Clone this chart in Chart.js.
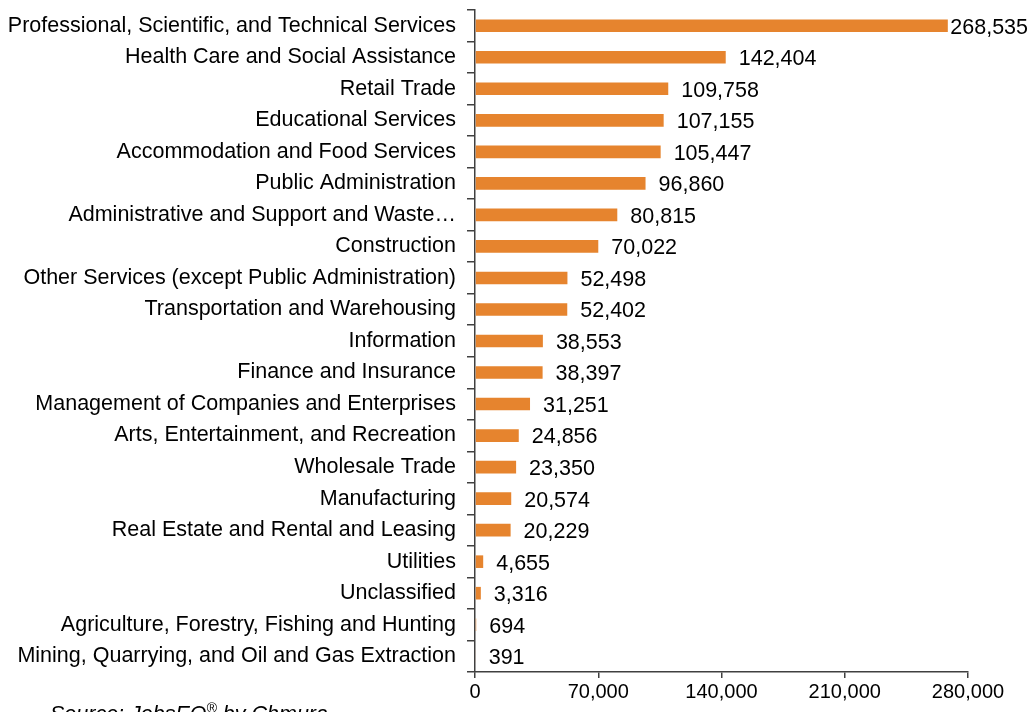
<!DOCTYPE html>
<html lang="en">
<head>
    <meta charset="UTF-8">
    <title>Employment by Industry</title>
    <style>
        body { margin: 0; background: #fff; overflow: hidden; }
        #industryChart { display: block; }
    </style>
</head>
<body>
    <canvas id="industryChart" width="1029" height="712"></canvas>

    <script src="https://cdn.jsdelivr.net/npm/chart.js"></script>
    <script>
        const industries = [
            'Professional, Scientific, and Technical Services',
            'Health Care and Social Assistance',
            'Retail Trade',
            'Educational Services',
            'Accommodation and Food Services',
            'Public Administration',
            'Administrative and Support and Waste\u2026',
            'Construction',
            'Other Services (except Public Administration)',
            'Transportation and Warehousing',
            'Information',
            'Finance and Insurance',
            'Management of Companies and Enterprises',
            'Arts, Entertainment, and Recreation',
            'Wholesale Trade',
            'Manufacturing',
            'Real Estate and Rental and Leasing',
            'Utilities',
            'Unclassified',
            'Agriculture, Forestry, Fishing and Hunting',
            'Mining, Quarrying, and Oil and Gas Extraction'
        ];
        const employment = [
            268535, 142404, 109758, 107155, 105447, 96860, 80815, 70022,
            52498, 52402, 38553, 38397, 31251, 24856, 23350, 20574, 20229,
            4655, 3316, 694, 391
        ];
        const xTicks = [0, 70000, 140000, 210000, 280000];
        const sourceNote = 'Source: JobsEQ\u00AE by Chmura';

        const fontFamily = "'Liberation Sans', Arial, sans-serif";
        const fontSize = 21.5;
        const barColor = '#E6842E';
        const axisColor = '#404040';

        const fmt = n => n.toLocaleString('en-US');

        // value labels at bar ends + source note
        const extras = {
            id: 'extras',
            afterDatasetsDraw(chart) {
                const ctx = chart.ctx;
                const meta = chart.getDatasetMeta(0);
                ctx.save();
                ctx.font = fontSize + 'px ' + fontFamily;
                ctx.fillStyle = '#000';
                ctx.textBaseline = 'middle';
                meta.data.forEach((bar, i) => {
                    const txt = fmt(employment[i]);
                    const w = ctx.measureText(txt).width;
                    let x = bar.x + 13;
                    if (x + w > chart.width - 1) x = chart.width - 1 - w;
                    ctx.fillText(txt, x, bar.y + 2);
                });

                // source note (partly below the canvas edge, like the original)
                ctx.font = 'italic ' + fontSize + 'px ' + fontFamily;
                ctx.textBaseline = 'alphabetic';
                const y = 721;
                let x = 50;
                const parts = sourceNote.split('\u00AE');
                ctx.fillText(parts[0], x, y);
                x += ctx.measureText(parts[0]).width;
                ctx.font = 'italic 14px ' + fontFamily;
                ctx.fillText('\u00AE', x, y - 8);
                x += ctx.measureText('\u00AE').width;
                ctx.font = 'italic ' + fontSize + 'px ' + fontFamily;
                ctx.fillText(parts[1], x, y);
                ctx.restore();
            }
        };

        new Chart(document.getElementById('industryChart').getContext('2d'), {
            type: 'bar',
            data: {
                labels: industries,
                datasets: [{
                    data: employment,
                    backgroundColor: barColor,
                    borderWidth: 0,
                    barPercentage: 0.4,
                    categoryPercentage: 1.0
                }]
            },
            options: {
                indexAxis: 'y',
                responsive: false,
                animation: false,
                layout: { padding: { top: 10, right: 61, left: 0, bottom: 0 } },
                plugins: {
                    legend: { display: false },
                    tooltip: { enabled: false }
                },
                scales: {
                    x: {
                        min: 0,
                        max: 280000,
                        afterBuildTicks: scale => {
                            scale.ticks = xTicks.map(v => ({ value: v }));
                        },
                        afterFit: scale => {
                            scale.height = 40;
                            scale.paddingLeft = 0;
                            scale.paddingRight = 0;
                        },
                        grid: {
                            drawOnChartArea: false,
                            drawTicks: true,
                            tickLength: 6,
                            color: axisColor,
                            lineWidth: 1.5
                        },
                        border: { color: axisColor, width: 1.5 },
                        ticks: {
                            padding: 2,
                            maxRotation: 0,
                            color: '#000',
                            font: { family: fontFamily, size: 20 },
                            callback: v => fmt(v)
                        }
                    },
                    y: {
                        afterFit: scale => {
                            scale.width = 475;
                            scale.paddingTop = 0;
                            scale.paddingBottom = 0;
                        },
                        grid: {
                            drawOnChartArea: false,
                            drawTicks: true,
                            tickLength: 8,
                            color: axisColor,
                            lineWidth: 1.5
                        },
                        border: { color: axisColor, width: 1.5 },
                        ticks: {
                            padding: 11,
                            autoSkip: false,
                            color: '#000',
                            font: { family: fontFamily, size: fontSize }
                        }
                    }
                }
            },
            plugins: [extras]
        });
    </script>
</body>
</html>
